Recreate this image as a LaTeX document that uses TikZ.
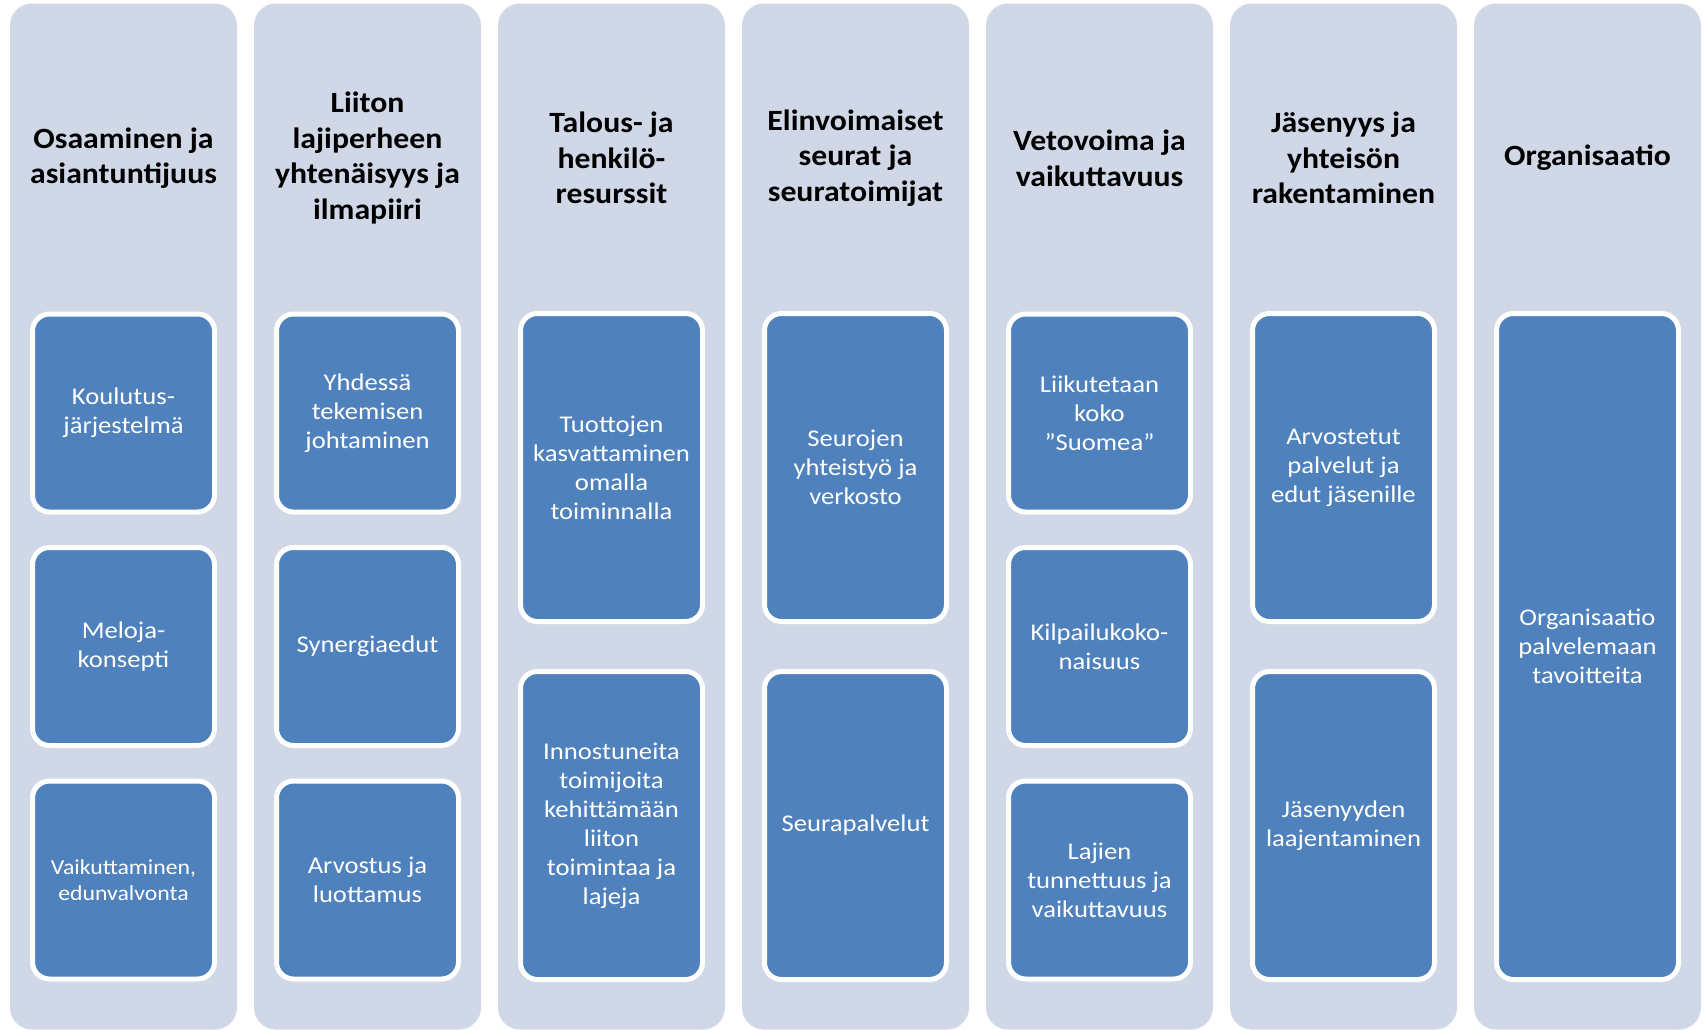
\documentclass[tikz,border=0pt]{standalone}
\usepackage{fontspec}
\setmainfont{Carlito}
\newfontfamily\hdfont[FakeStretch=1.08]{Carlito}
\newfontfamily\bxfont[FakeStretch=1.11]{Carlito}
\usepackage{tikz}
\definecolor{col_bg}{RGB}{208, 216, 232}
\definecolor{box_blue}{RGB}{79, 129, 189}
\tikzstyle{col}=[rectangle,rounded corners=11pt,fill=col_bg,draw=none,
  minimum width=113.5pt,minimum height=513pt,inner sep=0pt]
\tikzstyle{hd}=[align=center,text=black,inner sep=0pt,
  font=\hdfont\fontsize{14.7}{17.8}\selectfont\bfseries]
\tikzstyle{bx}=[rectangle,rounded corners=8.5pt,fill=box_blue,draw=white,
  line width=2.5pt,minimum width=91pt,inner sep=2pt,align=center,text=white,
  font=\bxfont\fontsize{12}{14.5}\selectfont]
\tikzstyle{b3}=[bx,minimum height=99pt]
\tikzstyle{b2}=[bx,minimum height=154pt]
\tikzstyle{b1}=[bx,minimum height=333pt]
\begin{document}
\begin{tikzpicture}[x=0.5pt,y=-0.5pt]
    \useasboundingbox (0,0) rectangle (1704,1029);
    \begin{scope}
        \clip (0,0) rectangle (1704,1029);
        \node [style=col] (0) at (123.5, 516.5) {};
        \node [style=col] (1) at (367.5, 516.5) {};
        \node [style=col] (2) at (611.5, 516.5) {};
        \node [style=col] (3) at (855.5, 516.5) {};
        \node [style=col] (4) at (1099.5, 516.5) {};
        \node [style=col] (5) at (1343.5, 516.5) {};
        \node [style=col] (6) at (1587.5, 516.5) {};
    \end{scope}
    % headings
    \node [style=hd] (10) at (123.5, 158) {Osaaminen ja\\asiantuntijuus};
    \node [style=hd] (11) at (367.5, 158) {Liiton\\lajiperheen\\yhtenäisyys ja\\ilmapiiri};
    \node [style=hd] (12) at (611.5, 158) {Talous- ja\\henkilö-\\resurssit};
    \node [style=hd] (13) at (855.5, 158) {Elinvoimaiset\\seurat ja\\seuratoimijat};
    \node [style=hd] (14) at (1099.5, 158) {Vetovoima ja\\vaikuttavuus};
    \node [style=hd] (15) at (1343.5, 158) {Jäsenyys ja\\yhteisön\\rakentaminen};
    \node [style=hd] (16) at (1587.5, 158) {Organisaatio};
    % boxes
    \node [style=b3] (20) at (123.5, 413) {Koulutus-\\järjestelmä};
    \node [style=b3] (21) at (123.5, 646.5) {Meloja-\\konsepti};
    \node [style=b3,font=\bxfont\fontsize{10.7}{13}\selectfont] (22) at (123.5, 880) {Vaikuttaminen,\\edunvalvonta};
    \node [style=b3] (23) at (367.5, 413) {Yhdessä\\tekemisen\\johtaminen};
    \node [style=b3] (24) at (367.5, 646.5) {Synergiaedut};
    \node [style=b3] (25) at (367.5, 880) {Arvostus ja\\luottamus};
    \node [style=b2] (26) at (611.5, 467.5) {Tuottojen\\kasvattaminen\\omalla\\toiminnalla};
    \node [style=b2] (27) at (611.5, 825.5) {Innostuneita\\toimijoita\\kehittämään\\liiton\\toimintaa ja\\lajeja};
    \node [style=b2] (28) at (855.5, 467.5) {Seurojen\\yhteistyö ja\\verkosto};
    \node [style=b2] (29) at (855.5, 825.5) {Seurapalvelut};
    \node [style=b3] (30) at (1099.5, 413) {Liikutetaan\\koko\\”Suomea”};
    \node [style=b3] (31) at (1099.5, 646.5) {Kilpailukoko-\\naisuus};
    \node [style=b3] (32) at (1099.5, 880) {Lajien\\tunnettuus ja\\vaikuttavuus};
    \node [style=b2] (33) at (1343.5, 467.5) {Arvostetut\\palvelut ja\\edut jäsenille};
    \node [style=b2] (34) at (1343.5, 825.5) {Jäsenyyden\\laajentaminen};
    \node [style=b1] (35) at (1587.5, 646.5) {Organisaatio\\palvelemaan\\tavoitteita};
\end{tikzpicture}
\end{document}
